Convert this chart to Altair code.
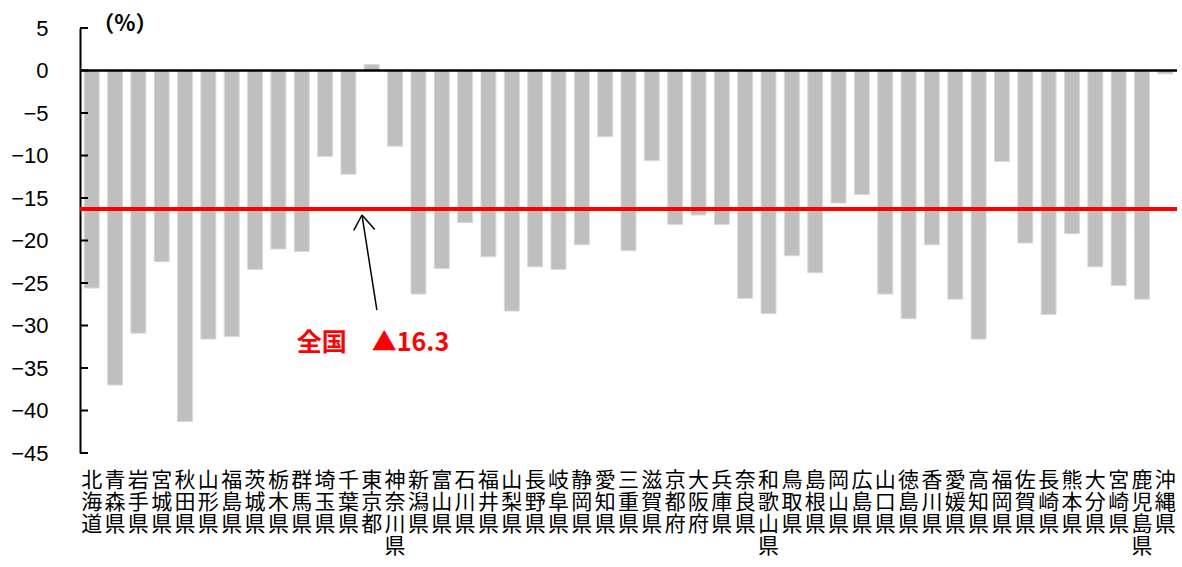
import altair as alt
import pandas as pd

prefs = ["北海道", "青森県", "岩手県", "宮城県", "秋田県", "山形県", "福島県", "茨城県", "栃木県", "群馬県",
         "埼玉県", "千葉県", "東京都", "神奈川県", "新潟県", "富山県", "石川県", "福井県", "山梨県", "長野県",
         "岐阜県", "静岡県", "愛知県", "三重県", "滋賀県", "京都府", "大阪府", "兵庫県", "奈良県", "和歌山県",
         "鳥取県", "島根県", "岡山県", "広島県", "山口県", "徳島県", "香川県", "愛媛県", "高知県", "福岡県",
         "佐賀県", "長崎県", "熊本県", "大分県", "宮崎県", "鹿児島県", "沖縄県"]
values = [-25.6, -37.0, -30.9, -22.5, -41.3, -31.6, -31.3, -23.4, -21.0, -21.3,
          -10.1, -12.2, 0.7, -8.9, -26.3, -23.3, -17.9, -21.9, -28.3, -23.1,
          -23.4, -20.5, -7.8, -21.2, -10.6, -18.1, -17.0, -18.1, -26.8, -28.6,
          -21.8, -23.8, -15.6, -14.6, -26.3, -29.2, -20.5, -26.9, -31.6, -10.7,
          -20.3, -28.7, -19.2, -23.1, -25.3, -26.9, -0.4]
national = -16.3
y_ticks = [-45, -40, -35, -30, -25, -20, -15, -10, -5, 0, 5]

# annotation geometry in data units (x: 0..47 prefecture slots, y: %)
arrow_x1 = [12.72, 12.08, 12.08]
arrow_y1 = [-28.2, -17.0, -17.0]
arrow_x2 = [12.08, 11.73, 12.63]
arrow_y2 = [-17.0, -18.8, -18.7]

df = pd.DataFrame({"pref": prefs, "value": values})
ticks_df = pd.DataFrame({"t": y_ticks})
arrow_df = pd.DataFrame({"x1": arrow_x1, "y1": arrow_y1, "x2": arrow_x2, "y2": arrow_y2})
note_df = pd.DataFrame({"ax": [9.29], "ay": [-32.1], "txt": ["全国　▲16.3"]})
unit_df = pd.DataFrame({"ax": [1.92], "ay": [5.45], "txt": ["（%）"]})

yscale = alt.Scale(domain=[-45, 5], nice=False, zero=False)
xq = alt.Scale(domain=[0, 47], nice=False, zero=False)

bars = alt.Chart(df).mark_bar(color="#BFBFBF", stroke="#D9D9D9", strokeWidth=1).encode(
    x=alt.X("pref:N", sort=prefs, title=None,
            scale=alt.Scale(paddingInner=0.36, paddingOuter=0.18),
            axis=alt.Axis(labelAngle=0, ticks=False, domain=False, labelExpr="split(datum.value, '')",
                          labelFont="Noto Sans CJK JP", labelFontSize=21, labelLineHeight=22,
                          labelColor="black", labelBaseline="top", labelPadding=16,
                          labelOverlap=False, labelLimit=0, labelFlush=False)),
    y=alt.Y("value:Q", scale=yscale, title=None,
            axis=alt.Axis(values=y_ticks, ticks=False, grid=False, domainColor="black", domainWidth=2,
                          labelFont="Liberation Sans", labelFontSize=22, labelColor="black",
                          labelPadding=32, format="d")),
)

zero = alt.Chart(pd.DataFrame({"v": [0]})).mark_rule(color="black", strokeWidth=2.5).encode(
    y=alt.Y("v:Q", scale=yscale))
red = alt.Chart(pd.DataFrame({"v": [national]})).mark_rule(color="#FF0000", strokeWidth=4).encode(
    y=alt.Y("v:Q", scale=yscale))
tk = alt.Chart(ticks_df).mark_rule(color="black", strokeWidth=2).encode(
    y=alt.Y("t:Q", scale=yscale), x=alt.value(0), x2=alt.value(8))

arrow = alt.Chart(arrow_df).mark_rule(color="black", strokeWidth=1.5).encode(
    x=alt.X("x1:Q", scale=xq, axis=None), x2="x2:Q",
    y=alt.Y("y1:Q", scale=yscale), y2="y2:Q")

note = alt.Chart(note_df).mark_text(color="#FF0000", fontWeight="bold", fontSize=25, align="left",
                                    baseline="middle", font="Noto Sans CJK JP").encode(
    x=alt.X("ax:Q", scale=xq, axis=None), y=alt.Y("ay:Q", scale=yscale), text="txt:N")

unit = alt.Chart(unit_df).mark_text(color="black", fontWeight="bold", fontSize=22, align="center",
                                    baseline="middle", font="Noto Sans CJK JP").encode(
    x=alt.X("ax:Q", scale=xq, axis=None), y=alt.Y("ay:Q", scale=yscale), text="txt:N")

chart = alt.layer(bars, zero, red, tk, arrow, note, unit).resolve_scale(x="independent").properties(
    width=1097, height=425,
    padding={"left": 80, "top": 28, "right": 5, "bottom": 114},
    autosize=alt.AutoSizeParams(type="none"),
    background="white",
).configure_view(stroke=None)

chart.save("out.html", embed_options={"renderer": "svg", "actions": False})
